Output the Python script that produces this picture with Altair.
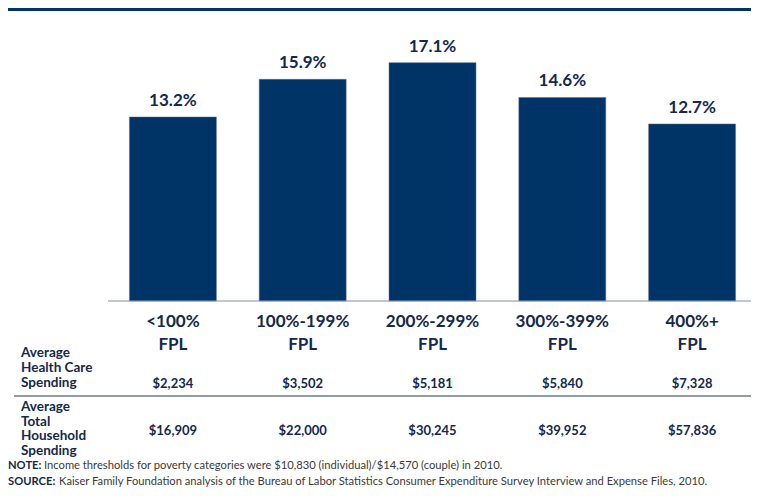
import altair as alt
import pandas as pd

# ---- data ----
categories = ["<100%\nFPL", "100%-199%\nFPL", "200%-299%\nFPL", "300%-399%\nFPL", "400%+\nFPL"]
share = [13.2, 15.9, 17.1, 14.6, 12.7]
health_spending = ["$2,234", "$3,502", "$5,181", "$5,840", "$7,328"]
household_spending = ["$16,909", "$22,000", "$30,245", "$39,952", "$57,836"]
row_labels = ["Average\nHealth Care\nSpending", "Average\nTotal\nHousehold\nSpending"]
note_head = ["NOTE:", "SOURCE:"]
note_body = [
    "Income thresholds for poverty categories were $10,830 (individual)/$14,570 (couple) in 2010.",
    "Kaiser Family Foundation analysis of the Bureau of Labor Statistics Consumer Expenditure Survey Interview and Expense Files, 2010.",
]

df = pd.DataFrame({
    "cat": categories,
    "share": share,
    "label": [f"{v:.1f}%" for v in share],
    "health": health_spending,
    "household": household_spending,
})

BAR = "#003466"
TXT = "#14284b"
FONT = "Lato"
HEAVY = "bold"
W, H = 743, 480

x = alt.X("cat:N", sort=None, axis=None,
          scale=alt.Scale(range=[100, 749], paddingInner=0.33, paddingOuter=0.165))
y = alt.Y("share:Q", axis=None, scale=alt.Scale(domain=[0, 20], range=[293, 14.2]))

base = alt.Chart(df)

bars = base.mark_bar(color=BAR, stroke="#5b6f8f", strokeWidth=0.5).encode(x=x, y=y)
bar_labels = base.mark_text(font=FONT, fontSize=17, fontWeight=HEAVY, color=TXT,
                            baseline="bottom", dy=-7).encode(x=x, y=y, text="label:N")

cat_labels = base.mark_text(font=FONT, fontSize=17, fontWeight=HEAVY, color=TXT,
                            baseline="alphabetic", lineBreak="\n", lineHeight=23).encode(
    x=x, y=alt.value(319), text="cat:N")
health_txt = base.mark_text(font=FONT, fontSize=13, fontWeight=HEAVY, color=TXT,
                            baseline="alphabetic").encode(x=x, y=alt.value(380), text="health:N")
house_txt = base.mark_text(font=FONT, fontSize=13, fontWeight=HEAVY, color=TXT,
                           baseline="alphabetic").encode(x=x, y=alt.value(427), text="household:N")

one = alt.Data(values=[{"a": 1}])
top_band = alt.Chart(one).mark_rect(color=BAR).encode(
    x=alt.value(0), x2=alt.value(W), y=alt.value(0), y2=alt.value(3))
baseline_rule = alt.Chart(one).mark_rule(color="#8090a8", strokeWidth=1.2).encode(
    x=alt.value(100), x2=alt.value(W), y=alt.value(293))
sep_rule = alt.Chart(one).mark_rule(color="#6b7a90", strokeWidth=1.5).encode(
    x=alt.value(6), x2=alt.value(W), y=alt.value(388))

row1 = alt.Chart(one).mark_text(font=FONT, fontSize=13.5, fontWeight=HEAVY, color=TXT, align="left",
                                baseline="alphabetic", lineBreak="\n", lineHeight=15).encode(
    x=alt.value(13), y=alt.value(349), text=alt.value(row_labels[0]))
row2 = alt.Chart(one).mark_text(font=FONT, fontSize=13.5, fontWeight=HEAVY, color=TXT, align="left",
                                baseline="alphabetic", lineBreak="\n", lineHeight=14.5).encode(
    x=alt.value(13), y=alt.value(403), text=alt.value(row_labels[1]))

note_layers = []
for i, (hd, body) in enumerate(zip(note_head, note_body)):
    yy = 461 + i * 16
    note_layers.append(alt.Chart(one).mark_text(font=FONT, fontSize=11.2, fontWeight="bold", color=TXT,
                                                align="left", baseline="alphabetic").encode(
        x=alt.value(0), y=alt.value(yy), text=alt.value(hd)))
    note_layers.append(alt.Chart(one).mark_text(font=FONT, fontSize=11.2, color="#3a3a3a",
                                                align="left", baseline="alphabetic").encode(
        x=alt.value(36 if i == 0 else 51), y=alt.value(yy), text=alt.value(body)))

chart = alt.layer(
    top_band, bars, baseline_rule, bar_labels, cat_labels, health_txt, house_txt,
    sep_rule, row1, row2, *note_layers
).properties(
    width=W, height=H, padding=0,
    autosize=alt.AutoSizeParams(type="none"),
).configure_view(stroke=None)

chart.save("out.html", embed_options={"renderer": "svg", "actions": False})
